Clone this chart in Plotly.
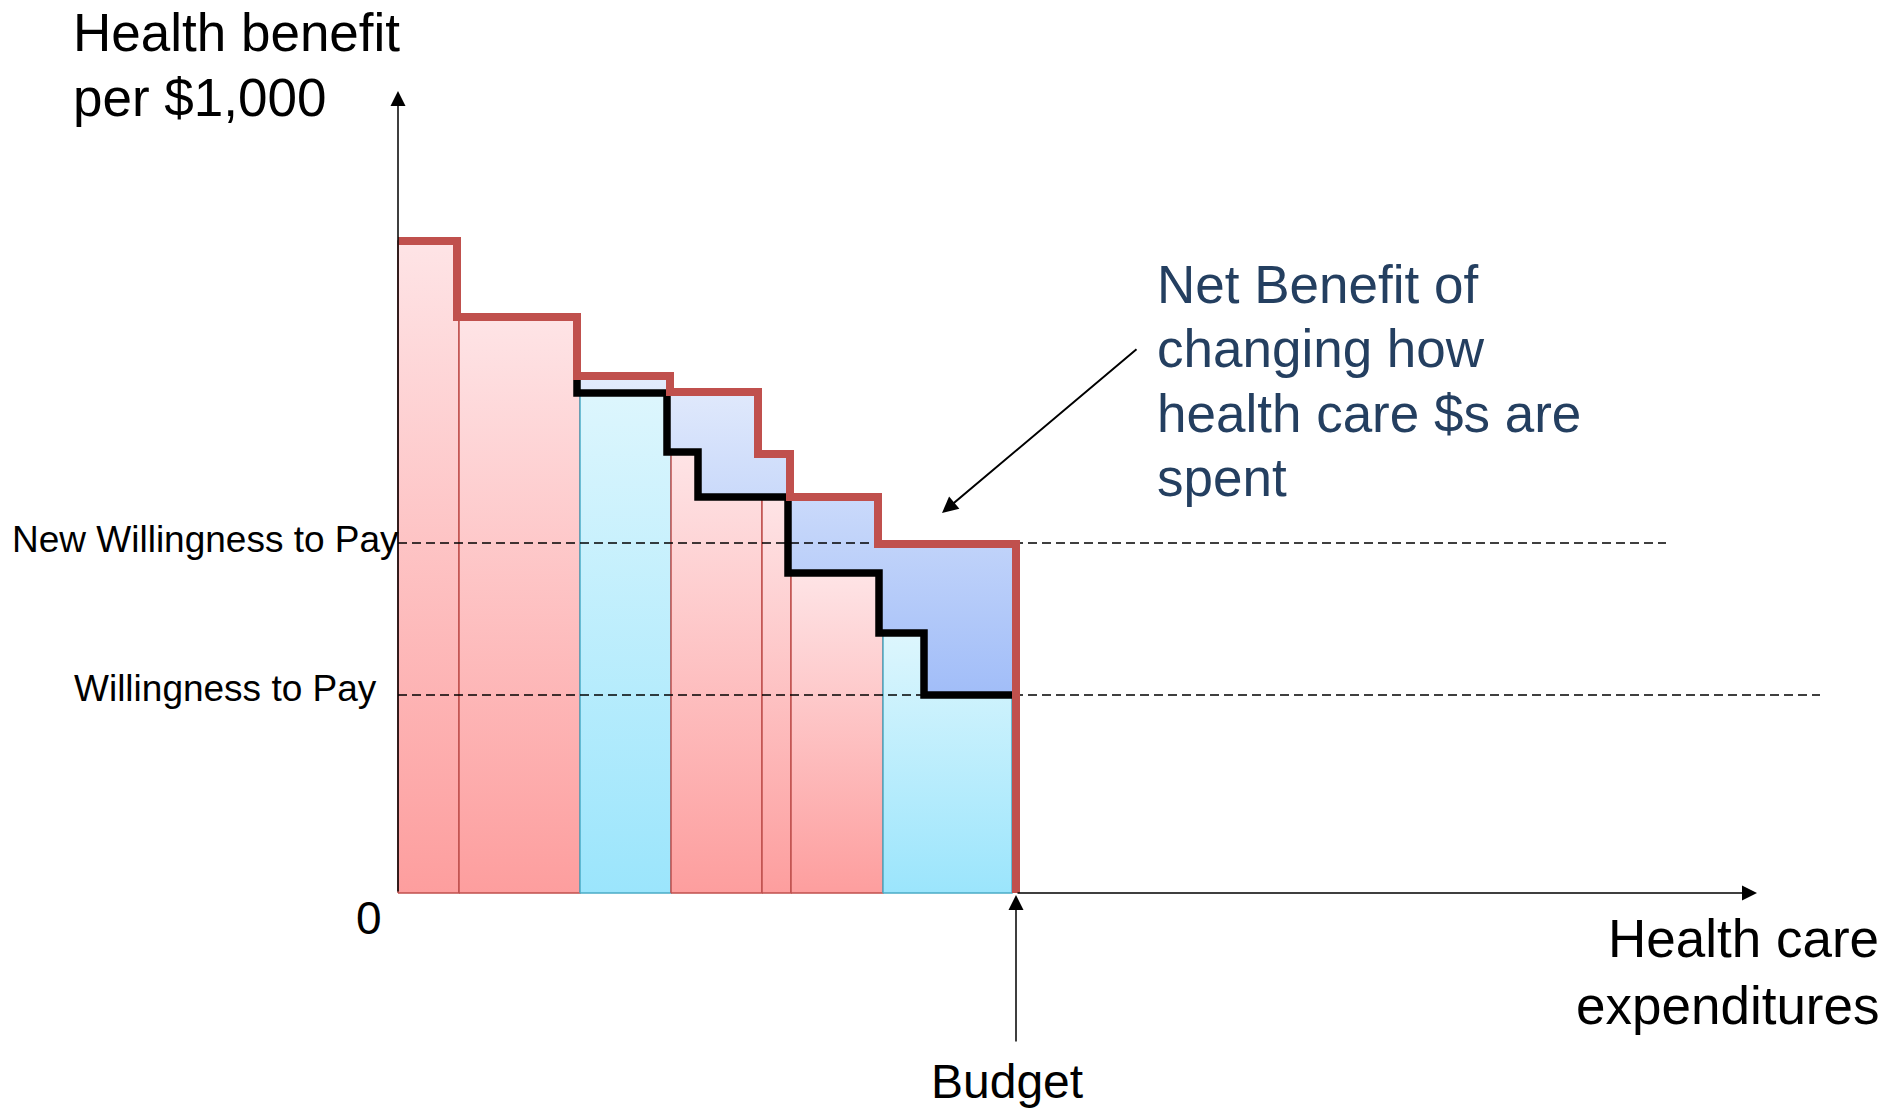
import plotly.graph_objects as go

W, H = 1902, 1110

# Programme blocks along the expenditure axis
bar_left = [0, 6.1, 18.2, 27.3, 36.4, 39.3, 48.5]
bar_right = [6.1, 18.2, 27.3, 36.4, 39.3, 48.5, 61.4]
bar_kind = ["pink", "pink", "cyan", "pink", "pink", "pink", "cyan"]

# New allocation: health benefit per $1,000 (red step curve)
new_edges = [0, 5.9, 17.9, 27.2, 36.0, 39.2, 48.0, 61.8]
new_levels = [65.2, 57.6, 51.7, 50.1, 43.9, 39.6, 34.9]

# Original allocation where it departs from the new one (black step curve)
old_edges = [17.9, 26.9, 30.0, 39.0, 48.1, 52.6, 61.8]
old_levels = [50.0, 44.1, 39.6, 32.0, 26.0, 19.8]

wtp = 19.8
new_wtp = 35.0
budget = 61.8
x_axis_end = 135.9
y_axis_end = 80.2
wtp_line_end = 142.2
new_wtp_line_end = 126.8

# Colours
RED = "#c0504d"
CYAN_EDGE = "#4bacc6"
TEXT_BLUE = "#243f60"
PINK_SCALE = [[0, "#fd9e9e"], [1, "#fee4e6"]]
CYAN_SCALE = [[0, "#9be5fc"], [1, "#ddf6fd"]]
BLUE_SCALE = [[0, "#a1bdf8"], [1, "#e3ebfc"]]
FONT = "Liberation Sans, Arial, sans-serif"


def step_path(edges, levels):
    xs, ys = [], []
    for i, lv in enumerate(levels):
        xs += [edges[i], edges[i + 1]]
        ys += [lv, lv]
    return xs, ys


def clip_steps(edges, levels, a, b):
    xs, ys = [], []
    for i, lv in enumerate(levels):
        s0, s1 = edges[i], edges[i + 1]
        lo, hi = max(a, s0), min(b, s1)
        if hi > lo:
            xs += [lo, hi]
            ys += [lv, lv]
    return xs, ys


# lower envelope: red curve until the black one takes over
env_edges = new_edges[:3] + old_edges[1:]
env_levels = new_levels[:2] + old_levels

fig = go.Figure()

# programme blocks
for a, b, kind in zip(bar_left, bar_right, bar_kind):
    tx, ty = clip_steps(env_edges, env_levels, a, b)
    xs = [a] + tx + [b, a]
    ys = [0] + ty + [0, 0]
    fig.add_trace(go.Scatter(
        x=xs, y=ys, mode="lines", fill="toself",
        fillgradient=dict(type="vertical",
                          colorscale=PINK_SCALE if kind == "pink" else CYAN_SCALE),
        line=dict(color=RED if kind == "pink" else CYAN_EDGE, width=1.5),
        hoverinfo="skip"))

# net benefit area between the two curves
rx, ry = step_path(new_edges[2:], new_levels[2:])
bx, by = step_path(old_edges, old_levels)
area_x = rx + [budget] + bx[::-1] + [rx[0]]
area_y = ry + [wtp] + by[::-1] + [ry[0]]
fig.add_trace(go.Scatter(
    x=area_x, y=area_y, mode="lines", fill="toself",
    fillgradient=dict(type="vertical", colorscale=BLUE_SCALE),
    line=dict(width=0), hoverinfo="skip"))

# willingness-to-pay thresholds
for lvl, end in [(new_wtp, new_wtp_line_end), (wtp, wtp_line_end)]:
    fig.add_trace(go.Scatter(
        x=[0, end], y=[lvl, lvl], mode="lines",
        line=dict(color="black", width=1.6, dash="9px,5px"), hoverinfo="skip"))

# original curve
bx2 = [old_edges[0]] + bx
by2 = [new_levels[2]] + by
fig.add_trace(go.Scatter(x=bx2, y=by2, mode="lines",
                         line=dict(color="black", width=7.5), hoverinfo="skip"))

# new curve
nx, ny = step_path(new_edges, new_levels)
nx += [budget]
ny += [0]
fig.add_trace(go.Scatter(x=nx, y=ny, mode="lines",
                         line=dict(color=RED, width=8), hoverinfo="skip"))


def arrow(xt, yt, xs, ys, width, size):
    return dict(x=xt, y=yt, ax=xs, ay=ys, xref="x", yref="y", axref="x", ayref="y",
                text="", showarrow=True, arrowhead=2, arrowwidth=width,
                arrowsize=size, arrowcolor="black", standoff=0)


def px(v):
    return v / W


def py(v):
    return 1 - v / H


def label(text, x, baseline, xanchor, size, color="black"):
    # place a single text line so that its baseline sits at the given pixel row
    top = baseline - 0.905 * size - 1
    return dict(text=text, x=px(x), y=py(top), xref="paper", yref="paper",
                xanchor=xanchor, yanchor="top", showarrow=False,
                font=dict(family=FONT, size=size, color=color))


BIG = 53
annotations = [
    arrow(0, y_axis_end, 0, 0, 1.5, 2),
    arrow(x_axis_end, 0, budget, 0, 1.5, 2),
    arrow(budget, -0.2, budget, -15.0, 1.5, 2),
    arrow(54.4, 38.0, 74.0, 54.5, 2, 1.6),
    label("Health benefit", 71, 50, "left", BIG),
    label("per $1,000", 71, 115, "left", BIG),
    label("Health care", 1881, 956, "right", BIG),
    label("expenditures", 1881, 1023, "right", BIG),
    label("Net Benefit of", 1155, 302, "left", BIG, TEXT_BLUE),
    label("changing how", 1155, 366, "left", BIG, TEXT_BLUE),
    label("health care $s are", 1155, 431, "left", BIG, TEXT_BLUE),
    label("spent", 1155, 495, "left", BIG, TEXT_BLUE),
    label("Budget", 1007, 1097, "center", 48),
    label("New Willingness to Pay", 401, 551, "right", 37),
    label("Willingness to Pay", 379, 700, "right", 37),
    label("0", 369, 933, "center", 46),
]

fig.update_layout(
    width=W, height=H,
    margin=dict(l=0, r=0, t=0, b=0),
    paper_bgcolor="white", plot_bgcolor="white",
    showlegend=False,
    xaxis=dict(domain=[0, 1], range=[-39.8, 150.4], visible=False, fixedrange=True),
    yaxis=dict(domain=[0, 1], range=[-21.7, 89.3], visible=False, fixedrange=True),
    annotations=annotations,
    font=dict(family=FONT),
)

fig.write_html("out.html")
